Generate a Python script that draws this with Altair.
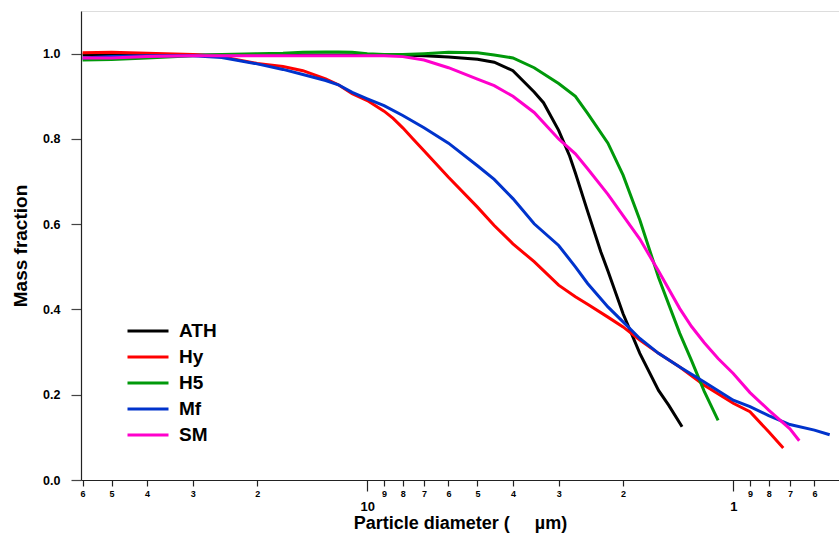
import altair as alt
import pandas as pd

# diameters (µm) and mass fractions
ath_d = [60, 50, 40, 30, 20, 15, 10, 9, 8, 7, 6, 5, 4.5, 4, 3.5, 3.3, 3, 2.8, 2.7, 2.5, 2.3, 2.2, 2, 1.8, 1.6, 1.5, 1.38]
ath_v = [0.997, 0.998, 0.997, 0.997, 0.997, 0.997, 0.997, 0.997, 0.997, 0.995, 0.992, 0.987, 0.98, 0.96, 0.91, 0.885, 0.82, 0.76, 0.72, 0.63, 0.535, 0.49, 0.39, 0.297, 0.21, 0.175, 0.125]

hy_d = [60, 50, 40, 30, 25, 20, 17, 15, 13, 12, 11, 10, 9, 8.5, 8, 7.5, 7, 6, 5, 4.5, 4, 3.5, 3, 2.7, 2.5, 2.2, 2, 1.8, 1.6, 1.4, 1.2, 1.0, 0.9, 0.8, 0.73]
hy_v = [1.002, 1.003, 1.001, 0.998, 0.993, 0.977, 0.97, 0.96, 0.941, 0.927, 0.906, 0.89, 0.865, 0.848, 0.826, 0.8, 0.772, 0.71, 0.64, 0.597, 0.554, 0.512, 0.457, 0.43, 0.412, 0.382, 0.359, 0.328, 0.297, 0.265, 0.222, 0.18, 0.16, 0.113, 0.075]

h5_d = [60, 50, 40, 30, 25, 20, 17, 15, 13, 12, 11, 10, 9, 8, 7, 6, 5, 4.5, 4, 3.5, 3, 2.7, 2.5, 2.2, 2, 1.8, 1.6, 1.4, 1.3, 1.2, 1.1]
h5_v = [0.985, 0.986, 0.99, 0.995, 0.998, 1.0, 1.001, 1.003, 1.004, 1.004, 1.003, 1.0, 0.998, 0.998, 1.0, 1.003, 1.002, 0.997, 0.99, 0.967, 0.93, 0.9, 0.86, 0.79, 0.715, 0.61, 0.475, 0.344, 0.28, 0.208, 0.14]

mf_d = [60, 50, 40, 30, 25, 20, 17, 15, 13, 12, 11, 10, 9, 8, 7, 6, 5, 4.5, 4, 3.5, 3, 2.7, 2.5, 2.2, 2, 1.8, 1.6, 1.4, 1.2, 1.0, 0.9, 0.8, 0.7, 0.6, 0.545]
mf_v = [0.99, 0.993, 0.995, 0.995, 0.991, 0.976, 0.963, 0.951, 0.937, 0.927, 0.909, 0.894, 0.878, 0.855, 0.826, 0.79, 0.737, 0.705, 0.66, 0.601, 0.55, 0.5, 0.461, 0.406, 0.371, 0.332, 0.297, 0.265, 0.23, 0.187, 0.172, 0.151, 0.13, 0.117, 0.106]

sm_d = [60, 50, 40, 30, 25, 20, 15, 12, 10, 9, 8, 7, 6, 5, 4.5, 4, 3.5, 3, 2.7, 2.5, 2.2, 2, 1.8, 1.6, 1.4, 1.3, 1.2, 1.1, 1.0, 0.9, 0.8, 0.7, 0.66]
sm_v = [0.99, 0.99, 0.993, 0.995, 0.995, 0.995, 0.995, 0.995, 0.995, 0.995, 0.993, 0.985, 0.967, 0.94, 0.925, 0.9, 0.862, 0.8, 0.765, 0.73, 0.67, 0.62, 0.565, 0.49, 0.402, 0.36, 0.322, 0.285, 0.25, 0.205, 0.164, 0.12, 0.092]

series_names = ["ATH", "Hy", "H5", "Mf", "SM"]
series_colors = ["#000000", "#ff0000", "#00990a", "#0033cc", "#ff00cc"]

minor_ticks = [60, 50, 40, 30, 20, 9, 8, 7, 6, 5, 4, 3, 2, 0.9, 0.8, 0.7, 0.6]
major_ticks = [10, 1]
y_ticks = [0.0, 0.2, 0.4, 0.6, 0.8, 1.0]

rows = []
for name, ds, vs in zip(series_names, [ath_d, hy_d, h5_d, mf_d, sm_d], [ath_v, hy_v, h5_v, mf_v, sm_v]):
    for i, (d, v) in enumerate(zip(ds, vs)):
        rows.append({"series": name, "d": d, "v": v, "order": i})
df = pd.DataFrame(rows)

FONT = "Liberation Sans"
xscale = alt.Scale(type="log", domain=[0.514, 60.6], reverse=True, nice=False, zero=False)
yscale = alt.Scale(domain=[0, 1.1], nice=False, zero=False)

y_axis = alt.Axis(
    values=y_ticks, format=".1f", tickSize=10, tickColor="#444", tickWidth=1.2,
    domainColor="#222", domainWidth=1.2, labelFont=FONT, labelFontSize=12.5,
    labelFontWeight="bold", labelColor="#000", labelPadding=11, grid=False,
    title="Mass fraction", titleFont=FONT, titleFontSize=19, titleFontWeight="bold",
    titleColor="#000", titlePadding=12)

lines = alt.Chart(df).mark_line(strokeWidth=3, clip=True).encode(
    x=alt.X("d:Q", scale=xscale, axis=alt.Axis(
        values=minor_ticks, orient="bottom",
        labelExpr="toString(round(datum.value >= 10 ? datum.value / 10 : (datum.value >= 1 ? datum.value : datum.value * 10)))",
        tickSize=6, tickColor="#222", tickWidth=1.2, domainColor="#222", domainWidth=1.2,
        labelFontSize=9, labelFont=FONT, labelFontWeight="bold", labelPadding=3, labelColor="#000",
        labelFlush=False, labelOverlap=False, grid=False,
        title="Particle diameter (\u00a0\u00a0\u00a0\u00a0\u00a0µm)", titleFont=FONT, titleFontSize=18,
        titleFontWeight="bold", titleColor="#000", titlePadding=16)),
    y=alt.Y("v:Q", scale=yscale, axis=y_axis),
    color=alt.Color("series:N", scale=alt.Scale(domain=series_names, range=series_colors),
                    legend=alt.Legend(orient="none", legendX=45, legendY=307, title=None,
                                      symbolType="stroke", symbolStrokeWidth=3, symbolSize=1681,
                                      labelFont=FONT, labelFontSize=19, labelFontWeight="bold",
                                      labelColor="#000", labelOffset=9, rowPadding=0,
                                      clipHeight=26)),
    order="order:Q",
)

major = alt.Chart(df).mark_line(opacity=0).encode(
    x=alt.X("d:Q", scale=xscale, axis=alt.Axis(
        values=major_ticks, orient="bottom", format="d", tickSize=11, tickColor="#222",
        tickWidth=1.2, domain=False, labelFontSize=13, labelFont=FONT, labelFontWeight="bold",
        labelColor="#000", labelPadding=9, labelFlush=False, grid=False, title=None)),
    y=alt.Y("v:Q", scale=yscale, axis=y_axis),
    detail="series:N",
)

chart = alt.layer(lines, major).resolve_axis(x="independent").resolve_scale(x="shared").properties(
    width=758, height=469,
    autosize=alt.AutoSizeParams(type="none"),
    padding={"left": 81, "top": 11, "right": 0, "bottom": 56},
).configure_view(strokeOpacity=0, strokeWidth=0).configure(background="white")

chart.save("out.html", embed_options={"renderer": "svg", "actions": False})
